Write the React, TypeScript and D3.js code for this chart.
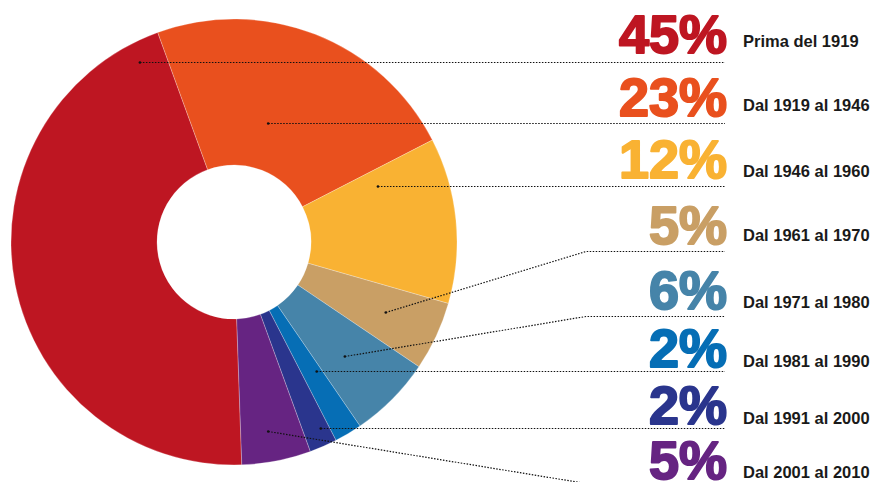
import React, { useEffect, useRef } from "react";
import { select, pie, arc } from "d3";

// data
const periods = [
  "Prima del 1919",
  "Dal 1919 al 1946",
  "Dal 1946 al 1960",
  "Dal 1961 al 1970",
  "Dal 1971 al 1980",
  "Dal 1981 al 1990",
  "Dal 1991 al 2000",
  "Dal 2001 al 2010",
];
const shares = [45, 23, 12, 5, 6, 2, 2, 5];
const sliceColors = [
  "#be1622",
  "#e9501e",
  "#f9b233",
  "#c99f65",
  "#4684a9",
  "#066eb5",
  "#2a358d",
  "#662482",
];

// layout
const width = 879;
const height = 482;
const cx = 234;
const cy = 242;
const outerR = 223;
const innerR = 77;
const startDeg = 178;
const pctX = 727;
const labelX = 743;
const bendX = 586;
const lineEndX = 725;
const pctBaseline = [53, 116, 178, 244, 309, 367, 424, 479];
const labelBaseline = [47, 111, 177, 241, 308, 367, 424, 478];
// null = straight horizontal leader at the anchor's height
const leaderY = [null, null, null, 251, 316, null, null, 483];
// where the leader starts inside its slice: share of the slice angle, radius
const anchorFrac = [0.953, 0.435, 0.137, 0.48, 0.546, 0.25, 0.31, 0.54];
const anchorR = [203, 124, 154.5, 167, 159, 153.5, 205.6, 192];

export default function App() {
  const svgRef = useRef<SVGSVGElement>(null);

  useEffect(() => {
    const svg = select(svgRef.current);
    svg.selectAll("*").remove();

    const start = (startDeg * Math.PI) / 180;
    const pieGen = pie<number>()
      .sort(null)
      .value((d) => d)
      .startAngle(start)
      .endAngle(start + 2 * Math.PI);
    const slices = pieGen(shares);

    const arcGen = arc<any>().innerRadius(innerR).outerRadius(outerR);

    const g = svg.append("g").attr("transform", `translate(${cx},${cy})`);
    g.selectAll("path")
      .data(slices)
      .join("path")
      .attr("d", arcGen)
      .attr("fill", (d, i) => sliceColors[i])
      .attr("stroke", "#ffffff")
      .attr("stroke-width", 0.5)
      .attr("stroke-opacity", 0.5);

    // leaders, snapped to half pixels so the dots stay crisp
    const anchors = slices.map((s, i) => {
      const a = s.startAngle + anchorFrac[i] * (s.endAngle - s.startAngle);
      return [
        cx + anchorR[i] * Math.sin(a),
        Math.round(cy - anchorR[i] * Math.cos(a)) + 0.5,
      ];
    });

    const leaders = svg.append("g");
    anchors.forEach(([x, y], i) => {
      const ly = leaderY[i] == null ? y : leaderY[i] + 0.5;
      leaders
        .append("polyline")
        .attr("points", `${x},${y} ${bendX},${ly} ${lineEndX},${ly}`)
        .attr("fill", "none")
        .attr("stroke", "#111")
        .attr("stroke-width", 1.2)
        .attr("stroke-dasharray", "1.5 1.5");
      leaders
        .append("circle")
        .attr("cx", x)
        .attr("cy", y)
        .attr("r", 1.3)
        .attr("fill", "#111");
    });

    // percentages
    svg
      .append("g")
      .selectAll("text")
      .data(shares)
      .join("text")
      .attr("x", pctX)
      .attr("y", (d, i) => pctBaseline[i])
      .attr("text-anchor", "end")
      .attr("font-family", "'Liberation Sans', Arial, sans-serif")
      .attr("font-weight", "bold")
      .attr("font-size", 54)
      .attr("fill", (d, i) => sliceColors[i])
      .attr("stroke", (d, i) => sliceColors[i])
      .attr("stroke-width", 2)
      .attr("stroke-linejoin", "round")
      .text((d) => `${d}%`);

    // period labels
    svg
      .append("g")
      .selectAll("text")
      .data(periods)
      .join("text")
      .attr("x", labelX)
      .attr("y", (d, i) => labelBaseline[i])
      .attr("font-family", "'Liberation Sans', Arial, sans-serif")
      .attr("font-weight", "bold")
      .attr("font-size", 16.5)
      .attr("fill", "#1a1a1a")
      .text((d) => d);
  }, []);

  return (
    <svg
      ref={svgRef}
      width={width}
      height={height}
      style={{ position: "absolute", left: 0, top: 0, background: "#fff" }}
    />
  );
}
